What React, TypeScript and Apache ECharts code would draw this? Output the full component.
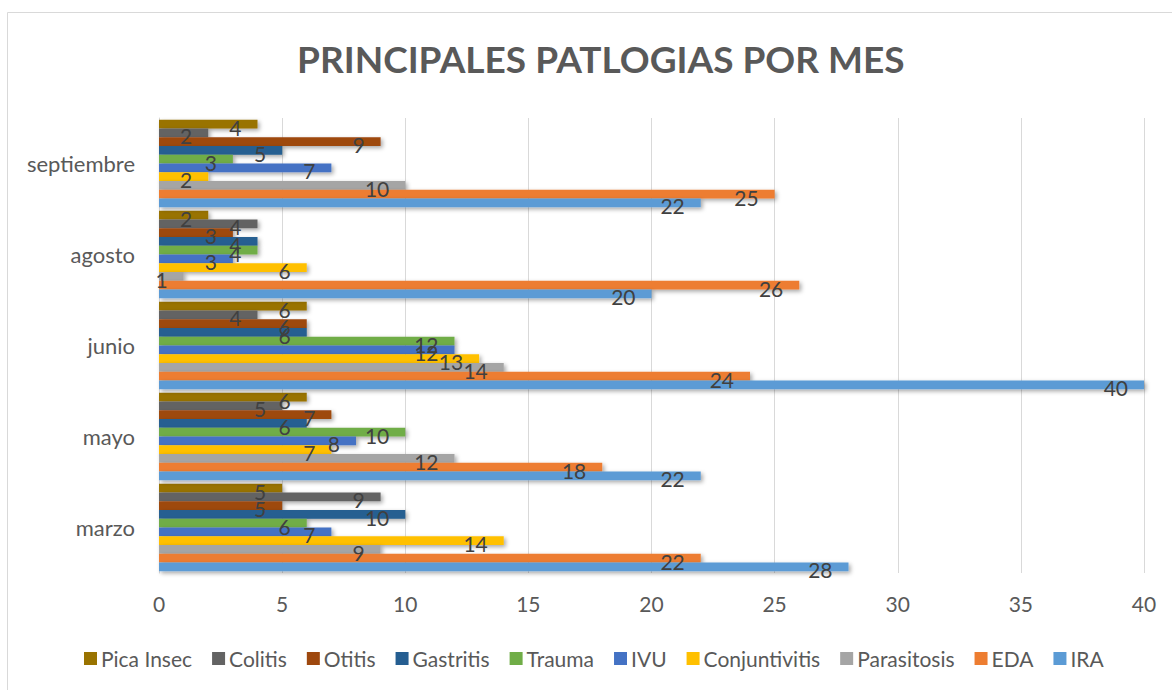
import React, { useEffect, useRef } from "react";
import * as echarts from "echarts";

const months = ["marzo", "mayo", "junio", "agosto", "septiembre"];
const seriesNames = ["IRA", "EDA", "Parasitosis", "Conjuntivitis", "IVU", "Trauma", "Gastritis", "Otitis", "Colitis", "Pica Insec"];
const colors = ["#5B9BD5", "#ED7D31", "#A5A5A5", "#FFC000", "#4472C4", "#70AD47", "#255E91", "#9E480E", "#636363", "#997300"];

const ira = [28, 22, 40, 20, 22];
const eda = [22, 18, 24, 26, 25];
const parasitosis = [9, 12, 14, 1, 10];
const conjuntivitis = [14, 7, 13, 6, 2];
const ivu = [7, 8, 12, 3, 7];
const trauma = [6, 10, 12, 4, 3];
const gastritis = [10, 6, 6, 4, 5];
const otitis = [5, 7, 6, 3, 9];
const colitis = [9, 5, 4, 4, 2];
const picaInsec = [5, 6, 6, 2, 4];

const seriesValues = [ira, eda, parasitosis, conjuntivitis, ivu, trauma, gastritis, otitis, colitis, picaInsec];
const xTicks = { min: 0, max: 40, interval: 5 };

const FONT = "Lato, 'Open Sans', sans-serif";

export default function App() {
  const ref = useRef<HTMLDivElement>(null);
  useEffect(() => {
    const chart = echarts.init(ref.current!, null, { renderer: "svg" });
    // ECharts stacks horizontal bar series top-down, so reverse to put IRA at the bottom
    const order = seriesNames.map((_, i) => i).reverse();
    chart.setOption({
      animation: false,
      backgroundColor: "#ffffff",
      textStyle: { fontFamily: FONT },
      title: {
        text: "PRINCIPALES PATLOGIAS POR MES",
        left: 292,
        top: 35,
        textStyle: { fontFamily: FONT, fontSize: 37, fontWeight: "bold", color: "#595959" },
      },
      graphic: [
        {
          type: "rect",
          shape: { x: 7.5, y: 12.5, width: 1180, height: 700 },
          style: { fill: "none", stroke: "#d9d9d9", lineWidth: 1 },
          silent: true,
        },
      ],
      legend: {
        data: seriesNames.slice().reverse(),
        bottom: 16,
        left: 79,
        itemWidth: 13,
        itemHeight: 13,
        itemGap: 20,
        icon: "rect",
        textStyle: { fontFamily: FONT, fontSize: 21, color: "#595959", padding: [0, 0, 0, -1] },
      },
      grid: { left: 159, right: 28, top: 118, bottom: 117, containLabel: false },
      xAxis: {
        type: "value",
        min: xTicks.min,
        max: xTicks.max,
        interval: xTicks.interval,
        axisLine: { show: false },
        axisTick: { show: false },
        splitLine: { show: true, lineStyle: { color: "#d9d9d9", width: 1 } },
        axisLabel: { fontFamily: FONT, fontSize: 21, color: "#595959", margin: 20 },
      },
      yAxis: {
        type: "category",
        data: months,
        axisLine: { show: true, lineStyle: { color: "#d9d9d9" } },
        axisTick: { show: false },
        axisLabel: { fontFamily: FONT, fontSize: 22, color: "#595959", margin: 24 },
      },
      series: order.map((i) => ({
        name: seriesNames[i],
        type: "bar",
        data: seriesValues[i],
        barGap: "0%",
        barCategoryGap: "4%",
        itemStyle: {
          color: colors[i],
          shadowColor: "rgba(0,0,0,0.35)",
          shadowBlur: 4,
          shadowOffsetX: 2,
          shadowOffsetY: 2,
        },
        label: {
          show: true,
          position: "insideRight",
          distance: 16,
          offset: [0, 3],
          fontFamily: FONT,
          fontSize: 21,
          color: "#404040",
        },
      })),
    });
    return () => chart.dispose();
  }, []);
  return (
    <div
      ref={ref}
      style={{ position: "absolute", left: 0, top: 0, width: 1172, height: 690 }}
    />
  );
}
